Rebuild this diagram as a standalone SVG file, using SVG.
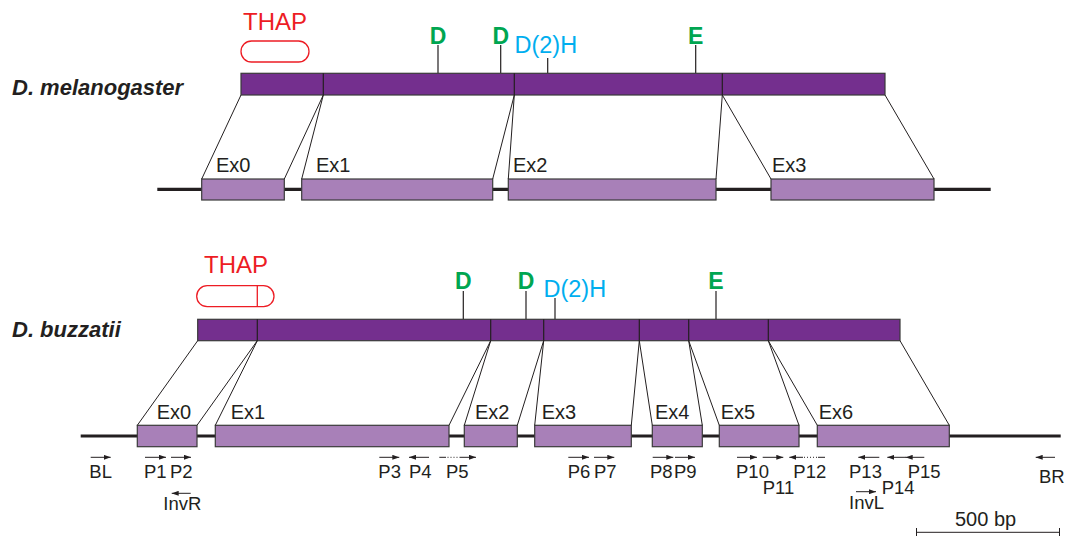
<svg xmlns="http://www.w3.org/2000/svg" width="1069" height="536" viewBox="0 0 1069 536">
<style>
text{font-family:"Liberation Sans",Arial,sans-serif;fill:#231f20}
.sp{font-weight:bold;font-style:italic;font-size:22px}
.thap{fill:#ed1c24;font-size:24px}
.pill{fill:none;stroke:#ed1c24;stroke-width:1.3}
.res{fill:#00a651;font-weight:bold;font-size:23px}
.dh{fill:#00aeef;font-size:23.5px}
.tick{stroke:#231f20;stroke-width:1.2}
.prot{fill:#742f8e;stroke:#3a3a3a;stroke-width:1.2}
.div{stroke:#231f20;stroke-width:1.2}
.exon{fill:#a880b8;stroke:#3a3a3a;stroke-width:1.2}
.gene{stroke:#231f20;stroke-width:3.2}
.ex{font-size:20px}
.pr{font-size:18.5px}
.sc{font-size:20px}
.arr{stroke:#231f20;stroke-width:1;fill:none}
.dot{stroke:#231f20;stroke-width:1;stroke-dasharray:1 2;fill:none}
.con{stroke:#231f20;stroke-width:1;fill:none}
</style>
<defs>
<marker id="ah" viewBox="0 0 7 5" refX="7" refY="2.5" markerWidth="7" markerHeight="5" orient="auto" markerUnits="userSpaceOnUse"><path d="M0,0 L7,2.5 L0,5 Z" fill="#231f20"/></marker>
</defs>
<rect width="1069" height="536" fill="#fff"/>

<!-- ===== D. melanogaster ===== -->
<g id="mel-label"><text class="sp" x="12" y="95">D. melanogaster</text></g>
<g id="mel-thap">
<text class="thap" x="275" y="30" text-anchor="middle">THAP</text>
<rect class="pill" x="241" y="41" width="68" height="21" rx="10.5"/>
</g>
<g id="mel-residues">
<line class="tick" x1="438" y1="45" x2="438" y2="73"/><text class="res" x="438" y="44" text-anchor="middle">D</text>
<line class="tick" x1="500.7" y1="45" x2="500.7" y2="73"/><text class="res" x="500.7" y="44" text-anchor="middle">D</text>
<line class="tick" x1="547.7" y1="58" x2="547.7" y2="73"/><text class="dh" x="514.5" y="52.5">D(2)H</text>
<line class="tick" x1="695.7" y1="45" x2="695.7" y2="73"/><text class="res" x="695.7" y="44" text-anchor="middle">E</text>
</g>
<g id="mel-protein">
<rect class="prot" x="241" y="73.3" width="644" height="21.7"/>
<line class="div" x1="323.3" y1="73.3" x2="323.3" y2="95"/>
<line class="div" x1="514.3" y1="73.3" x2="514.3" y2="95"/>
<line class="div" x1="722.3" y1="73.3" x2="722.3" y2="95"/>
</g>
<g id="mel-gene">
<line class="gene" x1="157.3" y1="189.3" x2="990.7" y2="189.3"/>
</g>
<g id="mel-ex0"><rect class="exon" x="201.7" y="179" width="82.6" height="21"/><text class="ex" x="216" y="171.7">Ex0</text></g>
<g id="mel-ex1"><rect class="exon" x="301.7" y="179" width="191" height="21"/><text class="ex" x="316" y="171.7">Ex1</text></g>
<g id="mel-ex2"><rect class="exon" x="508.3" y="179" width="207.7" height="21"/><text class="ex" x="513" y="171.7">Ex2</text></g>
<g id="mel-ex3"><rect class="exon" x="771" y="179" width="163" height="21"/><text class="ex" x="772" y="171.7">Ex3</text></g>

<!-- ===== D. buzzatii ===== -->
<g id="buz-label"><text class="sp" x="12" y="336.7">D. buzzatii</text></g>
<g id="buz-thap">
<text class="thap" x="236" y="273.3" text-anchor="middle">THAP</text>
<rect class="pill" x="196.7" y="285.7" width="77.3" height="21" rx="10.5"/>
<line class="pill" x1="257.3" y1="285.7" x2="257.3" y2="306.7"/>
</g>
<g id="buz-residues">
<line class="tick" x1="463.3" y1="291" x2="463.3" y2="319.3"/><text class="res" x="463.3" y="289" text-anchor="middle">D</text>
<line class="tick" x1="526" y1="291" x2="526" y2="319.3"/><text class="res" x="526" y="289" text-anchor="middle">D</text>
<line class="tick" x1="555" y1="298" x2="555" y2="319.3"/><text class="dh" x="543.5" y="297">D(2)H</text>
<line class="tick" x1="716" y1="291" x2="716" y2="319.3"/><text class="res" x="716" y="289" text-anchor="middle">E</text>
</g>
<g id="buz-protein">
<rect class="prot" x="197.7" y="319.3" width="702.3" height="21.4"/>
<line class="div" x1="257.3" y1="319.3" x2="257.3" y2="340.7"/>
<line class="div" x1="490.7" y1="319.3" x2="490.7" y2="340.7"/>
<line class="div" x1="543.7" y1="319.3" x2="543.7" y2="340.7"/>
<line class="div" x1="639.3" y1="319.3" x2="639.3" y2="340.7"/>
<line class="div" x1="688.7" y1="319.3" x2="688.7" y2="340.7"/>
<line class="div" x1="768.3" y1="319.3" x2="768.3" y2="340.7"/>
</g>
<g id="buz-gene">
<line class="gene" x1="80.7" y1="436" x2="1060.7" y2="436"/>
</g>
<g id="buz-ex0"><rect class="exon" x="137.3" y="425.3" width="59.7" height="21.4"/><text class="ex" x="156.7" y="419">Ex0</text></g>
<g id="buz-ex1"><rect class="exon" x="215.3" y="425.3" width="233.7" height="21.4"/><text class="ex" x="230.7" y="419">Ex1</text></g>
<g id="buz-ex2"><rect class="exon" x="464.3" y="425.3" width="53" height="21.4"/><text class="ex" x="475" y="419">Ex2</text></g>
<g id="buz-ex3"><rect class="exon" x="534.7" y="425.3" width="96.6" height="21.4"/><text class="ex" x="541.7" y="419">Ex3</text></g>
<g id="buz-ex4"><rect class="exon" x="652.3" y="425.3" width="50" height="21.4"/><text class="ex" x="655" y="419">Ex4</text></g>
<g id="buz-ex5"><rect class="exon" x="719.3" y="425.3" width="79.7" height="21.4"/><text class="ex" x="720.7" y="419">Ex5</text></g>
<g id="buz-ex6"><rect class="exon" x="817.3" y="425.3" width="132" height="21.4"/><text class="ex" x="818.7" y="419">Ex6</text></g>

<!-- ===== connectors ===== -->
<g id="connectors">
<line class="con" x1="241" y1="95" x2="201.7" y2="179"/>
<line class="con" x1="323.3" y1="95" x2="284.3" y2="179"/>
<line class="con" x1="323.3" y1="95" x2="301.7" y2="179"/>
<line class="con" x1="514.3" y1="95" x2="492.7" y2="179"/>
<line class="con" x1="514.3" y1="95" x2="508.3" y2="179"/>
<line class="con" x1="722.3" y1="95" x2="716" y2="179"/>
<line class="con" x1="722.3" y1="95" x2="771" y2="179"/>
<line class="con" x1="885" y1="95" x2="934" y2="179"/>

<line class="con" x1="197.7" y1="340.7" x2="137.3" y2="425.3"/>
<line class="con" x1="257.3" y1="340.7" x2="197" y2="425.3"/>
<line class="con" x1="257.3" y1="340.7" x2="215.3" y2="425.3"/>
<line class="con" x1="490.7" y1="340.7" x2="449" y2="425.3"/>
<line class="con" x1="490.7" y1="340.7" x2="464.3" y2="425.3"/>
<line class="con" x1="543.7" y1="340.7" x2="517.3" y2="425.3"/>
<line class="con" x1="543.7" y1="340.7" x2="534.7" y2="425.3"/>
<line class="con" x1="639.3" y1="340.7" x2="631.3" y2="425.3"/>
<line class="con" x1="639.3" y1="340.7" x2="652.3" y2="425.3"/>
<line class="con" x1="688.7" y1="340.7" x2="702.3" y2="425.3"/>
<line class="con" x1="688.7" y1="340.7" x2="719.3" y2="425.3"/>
<line class="con" x1="768.3" y1="340.7" x2="799" y2="425.3"/>
<line class="con" x1="768.3" y1="340.7" x2="817.3" y2="425.3"/>
<line class="con" x1="900" y1="340.7" x2="949.3" y2="425.3"/>
</g>

<!-- ===== primers ===== -->
<g id="primer-BL"><line class="arr" x1="90.7" y1="457.3" x2="110.7" y2="457.3" marker-end="url(#ah)"/><text class="pr" x="89.3" y="477.7">BL</text></g>
<g id="primer-P1"><line class="arr" x1="145" y1="457.3" x2="166" y2="457.3" marker-end="url(#ah)"/><text class="pr" x="144" y="477.7">P1</text></g>
<g id="primer-P2"><line class="arr" x1="171" y1="457.3" x2="191" y2="457.3" marker-end="url(#ah)"/><text class="pr" x="170" y="477.7">P2</text></g>
<g id="primer-InvR"><line class="arr" x1="190.7" y1="493.3" x2="171.7" y2="493.3" marker-end="url(#ah)"/><text class="pr" x="163.3" y="510">InvR</text></g>
<g id="primer-P3"><line class="arr" x1="379.3" y1="457.3" x2="399.3" y2="457.3" marker-end="url(#ah)"/><text class="pr" x="378.3" y="477.7">P3</text></g>
<g id="primer-P4"><line class="arr" x1="429" y1="457.3" x2="409" y2="457.3" marker-end="url(#ah)"/><text class="pr" x="409" y="477.7">P4</text></g>
<g id="primer-P5">
<line class="arr" x1="439.3" y1="457.3" x2="446" y2="457.3"/>
<line class="dot" x1="447.5" y1="457.3" x2="460" y2="457.3"/>
<line class="arr" x1="460" y1="457.3" x2="476" y2="457.3" marker-end="url(#ah)"/>
<text class="pr" x="446" y="477.7">P5</text></g>
<g id="primer-P6"><line class="arr" x1="568.3" y1="457.3" x2="589" y2="457.3" marker-end="url(#ah)"/><text class="pr" x="567.7" y="477.7">P6</text></g>
<g id="primer-P7"><line class="arr" x1="594" y1="457.3" x2="614.3" y2="457.3" marker-end="url(#ah)"/><text class="pr" x="594" y="477.7">P7</text></g>
<g id="primer-P8"><line class="arr" x1="652.7" y1="457.3" x2="673.3" y2="457.3" marker-end="url(#ah)"/><text class="pr" x="650" y="477.7">P8</text></g>
<g id="primer-P9"><line class="arr" x1="675" y1="457.3" x2="695" y2="457.3" marker-end="url(#ah)"/><text class="pr" x="674" y="477.7">P9</text></g>
<g id="primer-P10"><line class="arr" x1="737" y1="457.3" x2="757" y2="457.3" marker-end="url(#ah)"/><text class="pr" x="736" y="477.7">P10</text></g>
<g id="primer-P11"><line class="arr" x1="762.7" y1="457.3" x2="783.3" y2="457.3" marker-end="url(#ah)"/><text class="pr" x="762.7" y="494.3">P11</text></g>
<g id="primer-P12">
<line class="arr" x1="825" y1="457.3" x2="818" y2="457.3"/>
<line class="dot" x1="817" y1="457.3" x2="803" y2="457.3"/>
<line class="arr" x1="803" y1="457.3" x2="789.3" y2="457.3" marker-end="url(#ah)"/>
<text class="pr" x="793.3" y="477.7">P12</text></g>
<g id="primer-P13"><line class="arr" x1="879.3" y1="457.3" x2="858.3" y2="457.3" marker-end="url(#ah)"/><text class="pr" x="849" y="477.7">P13</text></g>
<g id="primer-P14"><line class="arr" x1="906" y1="457.3" x2="887.3" y2="457.3" marker-end="url(#ah)"/><text class="pr" x="881.7" y="494.3">P14</text></g>
<g id="primer-P15"><line class="arr" x1="924.3" y1="457.3" x2="905.7" y2="457.3" marker-end="url(#ah)"/><text class="pr" x="907.7" y="477.7">P15</text></g>
<g id="primer-InvL"><line class="arr" x1="856" y1="491.7" x2="876" y2="491.7" marker-end="url(#ah)"/><text class="pr" x="849" y="509.3">InvL</text></g>
<g id="primer-BR"><line class="arr" x1="1055" y1="457.3" x2="1035.7" y2="457.3" marker-end="url(#ah)"/><text class="pr" x="1039" y="483">BR</text></g>

<!-- ===== scale bar ===== -->
<g id="scale-bar">
<text class="sc" x="955" y="525.7">500 bp</text>
<line class="arr" x1="916" y1="532.3" x2="1060" y2="532.3"/>
<line class="arr" x1="916.5" y1="528" x2="916.5" y2="536"/>
<line class="arr" x1="1059.5" y1="528" x2="1059.5" y2="536"/>
</g>
</svg>
